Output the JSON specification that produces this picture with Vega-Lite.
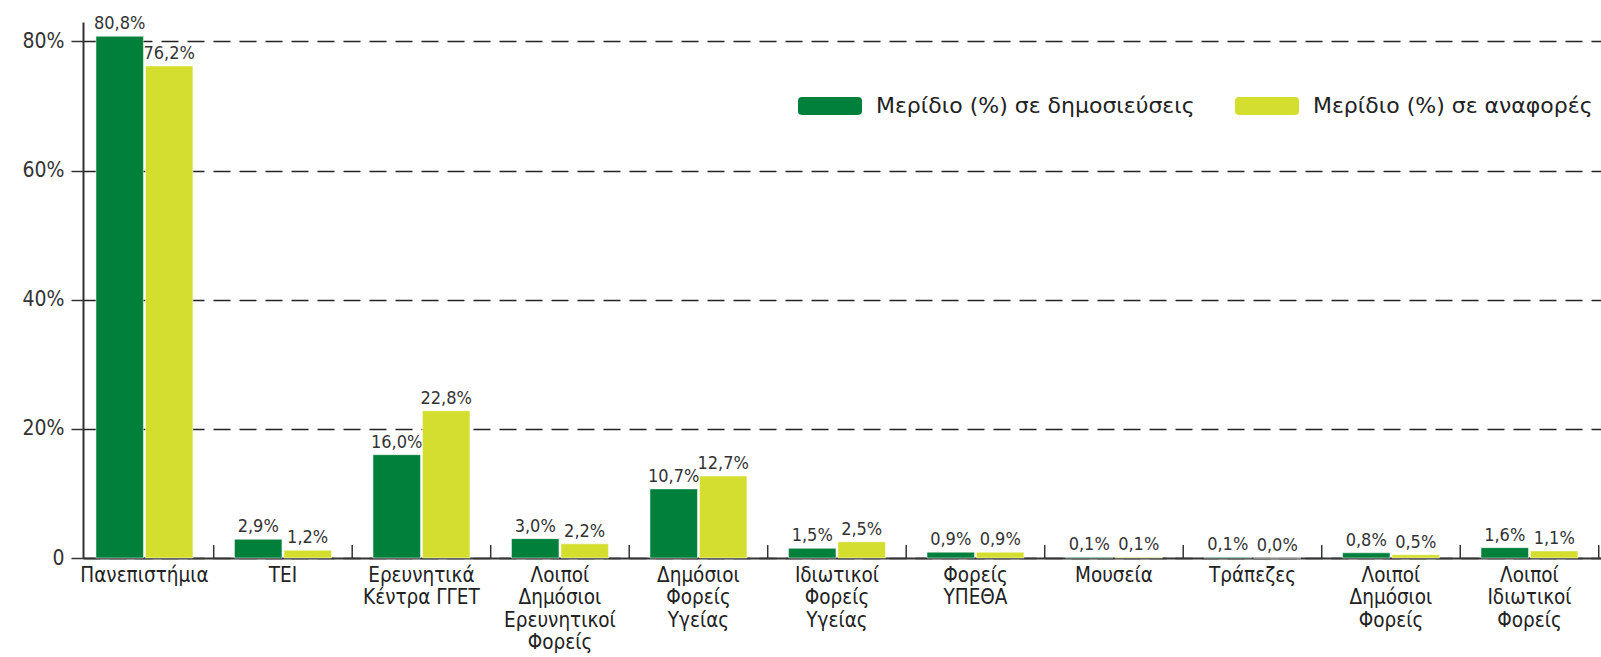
{
  "$schema": "https://vega.github.io/schema/vega-lite/v6.json",
  "width": 1518,
  "height": 536,
  "autosize": {"type": "none"},
  "padding": {"left": 83, "top": 22, "right": 0, "bottom": 99},
  "config": {
    "view": {"stroke": null},
    "font": "DejaVu Sans Condensed",
    "locale": {
      "number": {"decimal": ",", "thousands": ".", "grouping": [3], "currency": ["", " €"]}
    }
  },
  "data": {
    "values": [
      {"cat": "Πανεπιστήμια", "series": "Μερίδιο (%) σε δημοσιεύσεις", "v": 0.808},
      {"cat": "Πανεπιστήμια", "series": "Μερίδιο (%) σε αναφορές", "v": 0.762},
      {"cat": "ΤΕΙ", "series": "Μερίδιο (%) σε δημοσιεύσεις", "v": 0.029},
      {"cat": "ΤΕΙ", "series": "Μερίδιο (%) σε αναφορές", "v": 0.012},
      {"cat": "Ερευνητικά|Κέντρα ΓΓΕΤ", "series": "Μερίδιο (%) σε δημοσιεύσεις", "v": 0.160},
      {"cat": "Ερευνητικά|Κέντρα ΓΓΕΤ", "series": "Μερίδιο (%) σε αναφορές", "v": 0.228},
      {"cat": "Λοιποί|Δημόσιοι|Ερευνητικοί|Φορείς", "series": "Μερίδιο (%) σε δημοσιεύσεις", "v": 0.030},
      {"cat": "Λοιποί|Δημόσιοι|Ερευνητικοί|Φορείς", "series": "Μερίδιο (%) σε αναφορές", "v": 0.022},
      {"cat": "Δημόσιοι|Φορείς|Υγείας", "series": "Μερίδιο (%) σε δημοσιεύσεις", "v": 0.107},
      {"cat": "Δημόσιοι|Φορείς|Υγείας", "series": "Μερίδιο (%) σε αναφορές", "v": 0.127},
      {"cat": "Ιδιωτικοί|Φορείς|Υγείας", "series": "Μερίδιο (%) σε δημοσιεύσεις", "v": 0.015},
      {"cat": "Ιδιωτικοί|Φορείς|Υγείας", "series": "Μερίδιο (%) σε αναφορές", "v": 0.025},
      {"cat": "Φορείς|ΥΠΕΘΑ", "series": "Μερίδιο (%) σε δημοσιεύσεις", "v": 0.009},
      {"cat": "Φορείς|ΥΠΕΘΑ", "series": "Μερίδιο (%) σε αναφορές", "v": 0.009},
      {"cat": "Μουσεία", "series": "Μερίδιο (%) σε δημοσιεύσεις", "v": 0.001},
      {"cat": "Μουσεία", "series": "Μερίδιο (%) σε αναφορές", "v": 0.001},
      {"cat": "Τράπεζες", "series": "Μερίδιο (%) σε δημοσιεύσεις", "v": 0.001},
      {"cat": "Τράπεζες", "series": "Μερίδιο (%) σε αναφορές", "v": 0.0},
      {"cat": "Λοιποί|Δημόσιοι|Φορείς", "series": "Μερίδιο (%) σε δημοσιεύσεις", "v": 0.008},
      {"cat": "Λοιποί|Δημόσιοι|Φορείς", "series": "Μερίδιο (%) σε αναφορές", "v": 0.005},
      {"cat": "Λοιποί|Ιδιωτικοί|Φορείς", "series": "Μερίδιο (%) σε δημοσιεύσεις", "v": 0.016},
      {"cat": "Λοιποί|Ιδιωτικοί|Φορείς", "series": "Μερίδιο (%) σε αναφορές", "v": 0.011}
    ]
  },
  "layer": [
    {
      "mark": {"type": "bar", "stroke": "#fff", "strokeWidth": 0.5},
      "encoding": {
        "x": {
          "field": "cat",
          "type": "nominal",
          "sort": null,
          "scale": {"paddingInner": 0.3, "paddingOuter": 0.13, "align": 0.36},
          "axis": {
            "title": null,
            "labelAngle": 0,
            "labelExpr": "split(datum.label, '|')",
            "labelFontSize": 20.5,
            "labelColor": "#222",
            "labelLineHeight": 22.5,
            "labelPadding": 7,
            "labelLimit": 0,
            "domain": true,
            "domainColor": "#333",
            "domainWidth": 2,
            "ticks": false
          }
        },
        "xOffset": {"field": "series", "sort": null, "scale": {"paddingInner": 0.04}},
        "y": {
          "field": "v",
          "type": "quantitative",
          "scale": {"domain": [0, 0.83], "nice": false},
          "axis": {
            "title": null,
            "values": [0, 0.2, 0.4, 0.6, 0.8],
            "format": ".0%",
            "labelExpr": "datum.value == 0 ? '0' : datum.label",
            "labelFontSize": 21,
            "labelColor": "#333",
            "labelPadding": 7,
            "domainColor": "#333",
            "domainWidth": 2,
            "tickColor": "#333",
            "tickWidth": 1.5,
            "tickSize": 12,
            "grid": true,
            "gridColor": "#222",
            "gridWidth": 1.3,
            "gridDash": [17, 9]
          }
        },
        "color": {
          "field": "series",
          "type": "nominal",
          "sort": null,
          "scale": {
            "domain": ["Μερίδιο (%) σε δημοσιεύσεις", "Μερίδιο (%) σε αναφορές"],
            "range": ["#00803A", "#D3DE2F"]
          },
          "legend": {
            "title": null,
            "orient": "none",
            "legendX": 715,
            "legendY": 52,
            "direction": "horizontal",
            "symbolType": "M-0.88,-0.28H0.88Q1,-0.28 1,-0.16V0.16Q1,0.28 0.88,0.28H-0.88Q-1,0.28 -1,0.16V-0.16Q-1,-0.28 -0.88,-0.28Z",
            "symbolSize": 4096,
            "symbolStrokeWidth": 0,
            "symbolOpacity": 1,
            "labelFont": "DejaVu Sans",
            "labelFontSize": 22,
            "labelColor": "#222",
            "labelOffset": 14,
            "labelLimit": 0,
            "columnPadding": 40
          }
        }
      }
    },
    {
      "mark": {"type": "text", "baseline": "bottom", "dy": -3, "fontSize": 18, "color": "#333"},
      "encoding": {
        "x": {"field": "cat", "type": "nominal", "sort": null},
        "xOffset": {"field": "series", "sort": null},
        "y": {"field": "v", "type": "quantitative"},
        "text": {"field": "v", "type": "quantitative", "format": ".1%"}
      }
    },
    {
      "transform": [{"filter": "datum.series == 'Μερίδιο (%) σε δημοσιεύσεις'"}],
      "mark": {"type": "rule", "color": "#333", "strokeWidth": 1.5},
      "encoding": {
        "x": {"field": "cat", "type": "nominal", "sort": null, "bandPosition": 1.2143},
        "y": {"datum": 0},
        "y2": {"datum": 0.02}
      }
    }
  ]
}
